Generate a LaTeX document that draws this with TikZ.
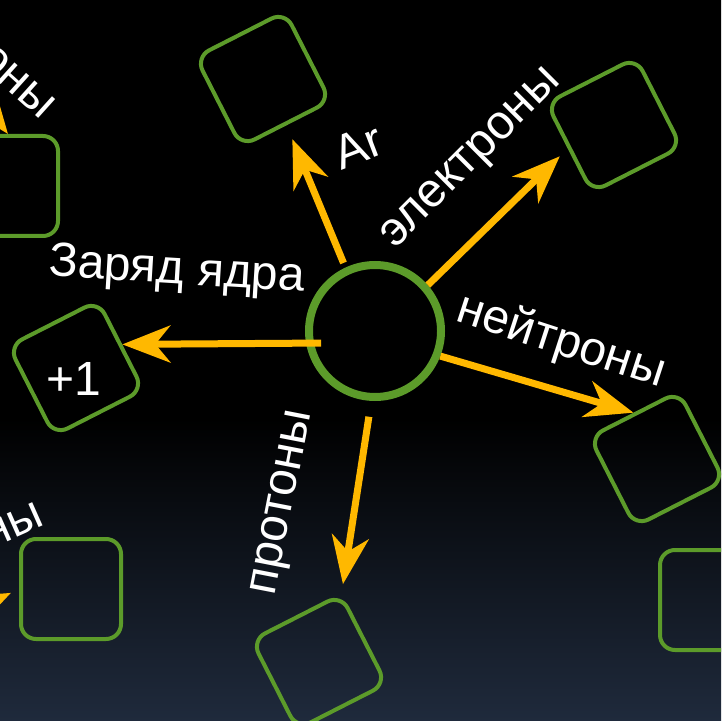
\documentclass[tikz,border=0pt]{standalone}
\usepackage{fontspec}
\setmainfont{Liberation Sans}
\usetikzlibrary{arrows.meta}
\definecolor{leaf}{RGB}{92,155,42}
\definecolor{amber}{RGB}{255,184,0}
\definecolor{night}{RGB}{31,42,60}
\pgfdeclareverticalshading{sky}{100bp}{color(0bp)=(night); color(25bp)=(night); color(46bp)=(black); color(100bp)=(black)}
\begin{document}
\begin{tikzpicture}[x=0.5pt,y=-0.5pt,
    box/.style={draw=leaf,line width=2pt,rounded corners=7.5pt,minimum size=50pt},
    tag/.style={text=white,font=\fontsize{24}{28}\selectfont,inner sep=0pt},
    arr/.style={amber,line width=3.5pt,-{Stealth[length=24pt,width=18.5pt,inset=7.5pt]}}]
    \useasboundingbox (0,0) rectangle (721,721);
    \clip (0,0) rectangle (721,721);
    \shade[shading=sky] (0,0) rectangle (721,721);
    \node[box,rotate=27] (arbox) at (263,79) {};
    \node[box,rotate=27] (elbox) at (614,125) {};
    \node[box,rotate=27] (nebox) at (657,459) {};
    \node[box,rotate=27] (prbox) at (319,662) {};
    \node[box,rotate=27] (zabox) at (76,368) {};
    \node[box] (tlbox) at (8,186) {};
    \node[box] (blbox) at (71,589) {};
    \node[box] (brbox) at (710,600) {};
    \node[draw=leaf,line width=4pt,circle,minimum size=66pt] (core) at (375,331) {};
    \coordinate (tlfrom) at (-60,45);
    \coordinate (blfrom) at (-100,646);
    \draw[arr,shorten <=2.5pt,shorten >=7.5pt] (core.115) -- (arbox.south);
    \draw[arr,shorten >=5.5pt] (core.41) -- (elbox.west);
    \draw[arr] (core.-21) -- (nebox.north);
    \draw[arr,shorten <=8pt,shorten >=4pt] (core.-93) -- (prbox.north east);
    \draw[arr,shorten <=-7.5pt] (core.-170) -- (zabox.east);
    \draw[arr] (tlfrom) -- (tlbox.north);
    \draw[arr,shorten >=4.5pt] (blfrom) -- (blbox.west);
    \node[tag,rotate=21] (ar) at (358,146) {Ar};
    \node[tag,rotate=45] (el) at (473,160) {электроны};
    \node[tag,rotate=-18] (ne) at (561,342) {нейтроны};
    \node[tag,rotate=79] (pr) at (285,503) {протоны};
    \node[tag,rotate=-3.5] (za) at (177,272) {Заряд ядра};
    \node[tag] (one) at (74,379) {+1};
    \node[tag,rotate=-42,anchor=east] (tl) at (50,111) {оны};
    \node[tag,rotate=24,anchor=east] (bl) at (41,513) {ны};
\end{tikzpicture}
\end{document}
